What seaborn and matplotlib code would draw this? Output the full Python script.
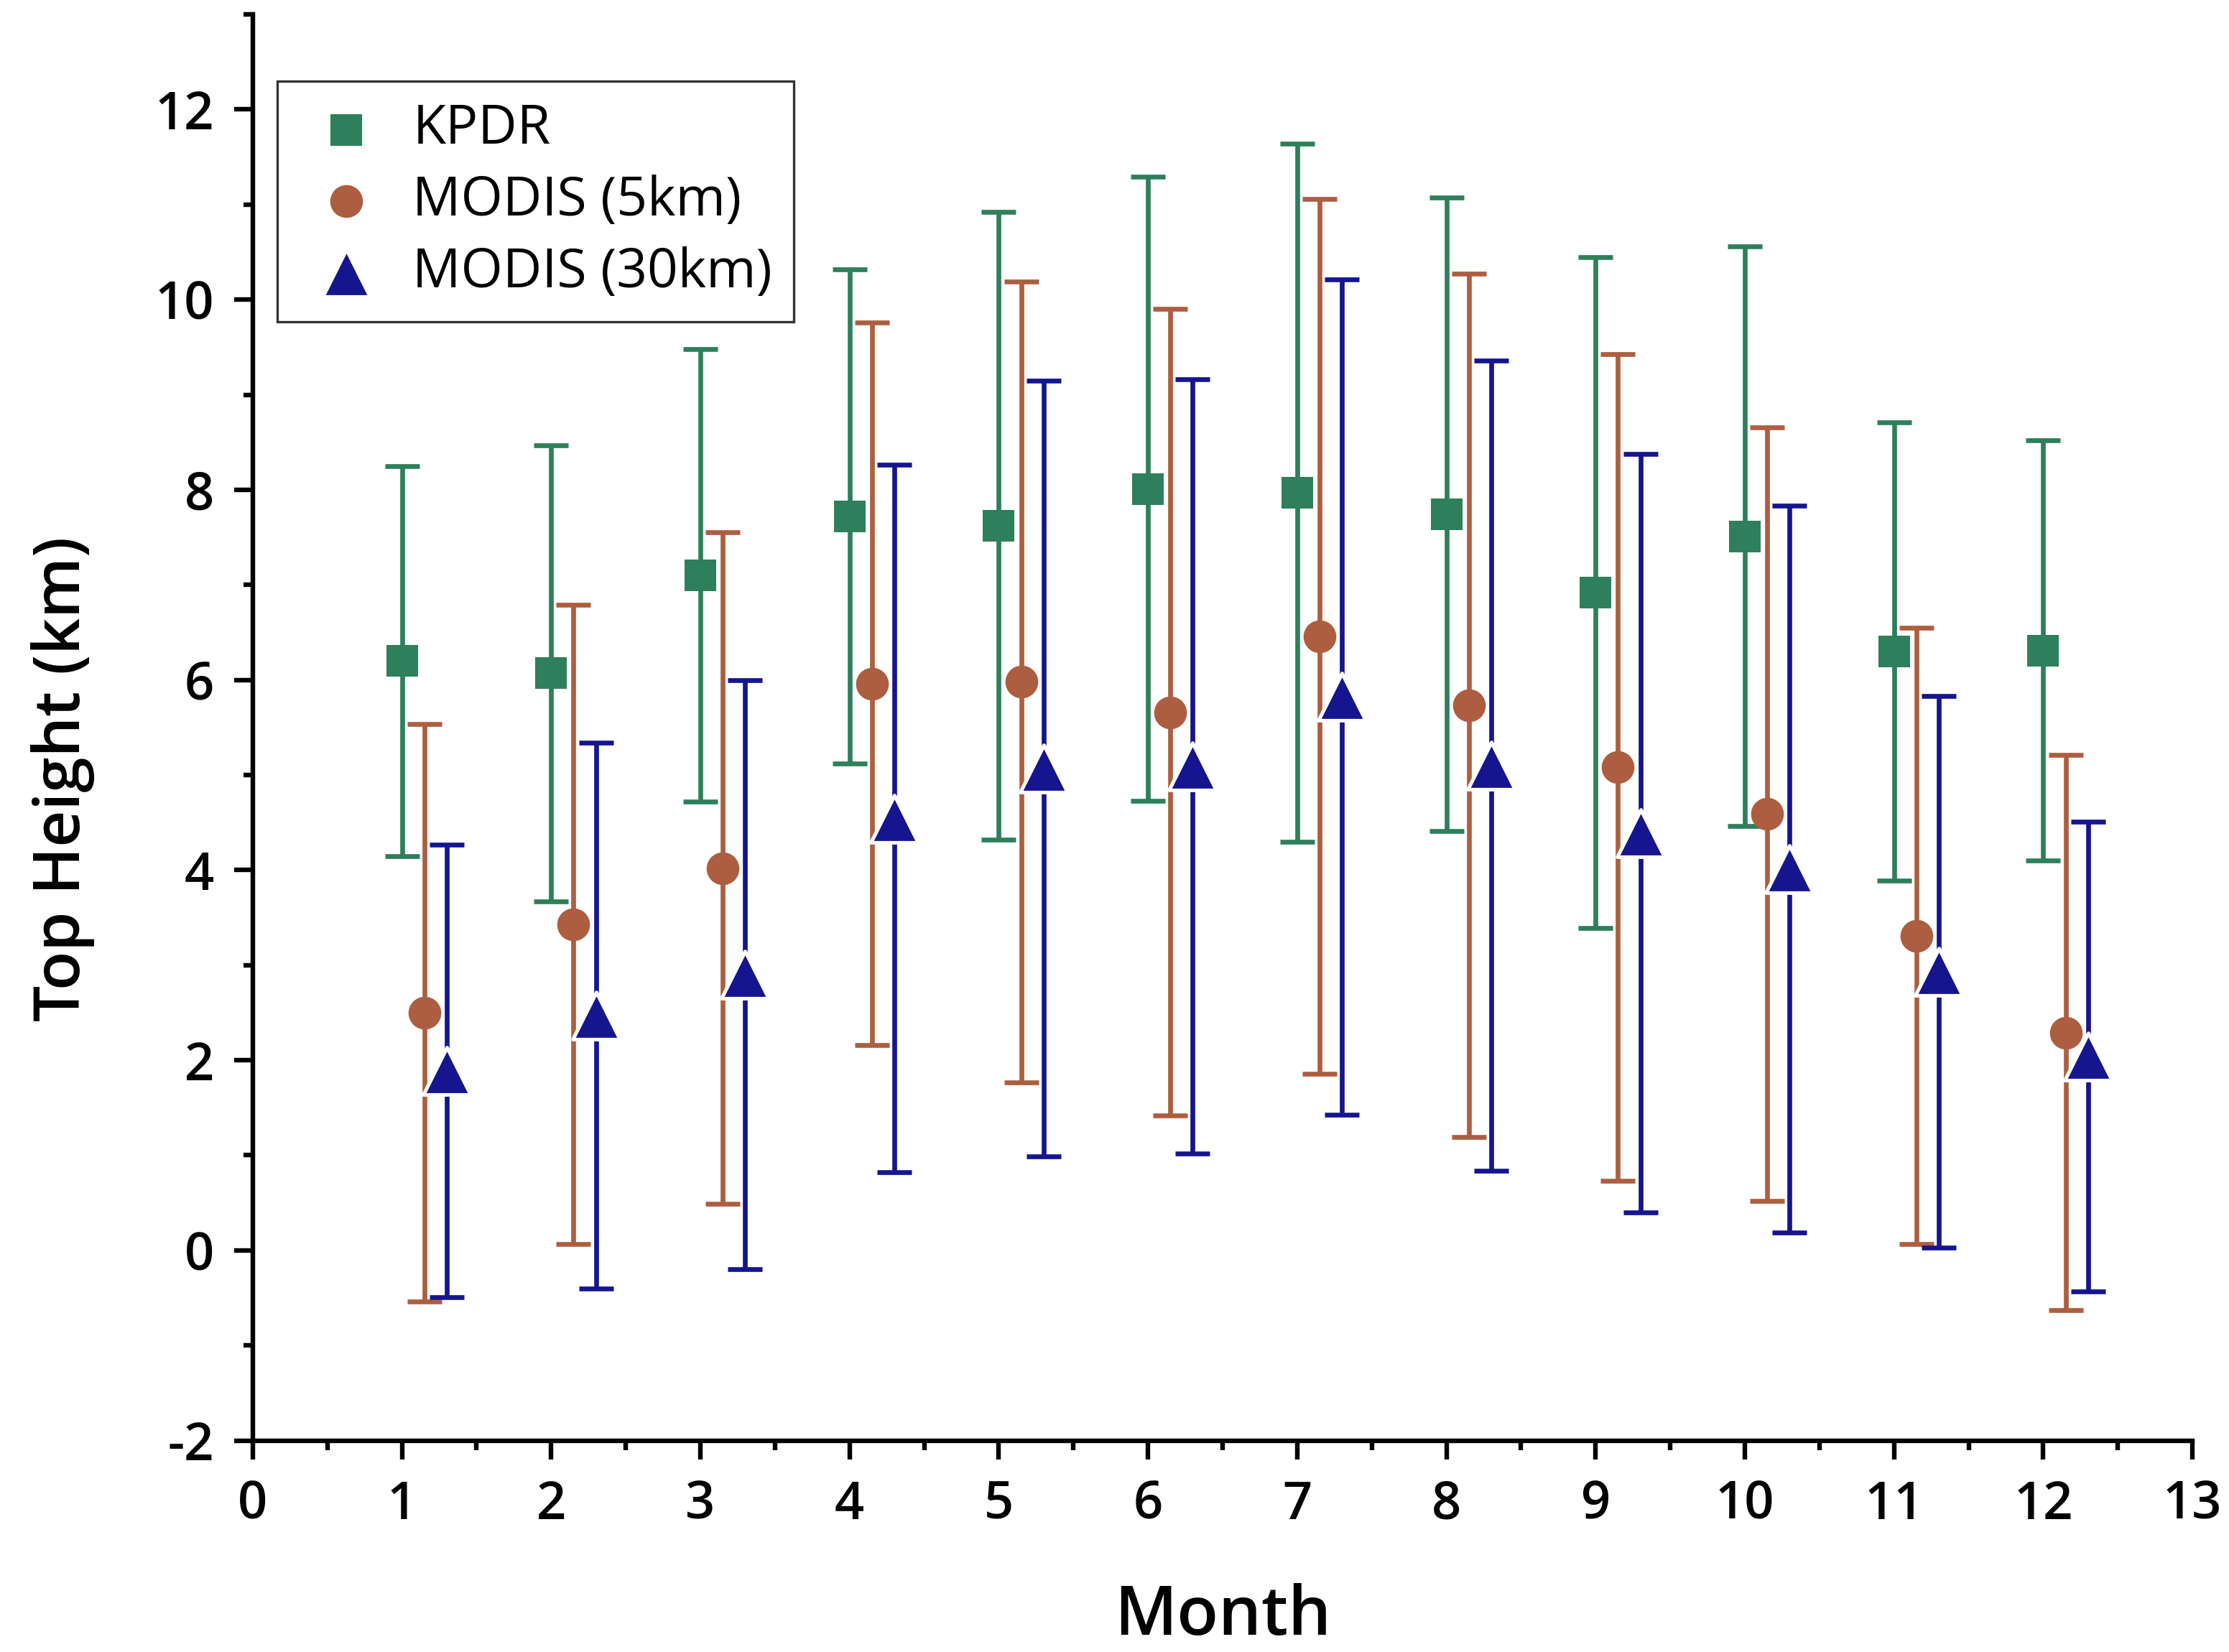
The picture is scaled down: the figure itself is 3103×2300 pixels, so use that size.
import numpy as np
import pandas as pd
import seaborn as sns
import matplotlib.pyplot as plt
from matplotlib.ticker import MultipleLocator

months = np.arange(1, 13)

# KPDR
kpdr_mean = [6.20, 6.07, 7.10, 7.72, 7.62, 8.01, 7.97, 7.74, 6.92, 7.51, 6.30, 6.31]
kpdr_err = [2.05, 2.40, 2.38, 2.60, 3.30, 3.28, 3.67, 3.33, 3.53, 3.05, 2.41, 2.21]

# MODIS 5km
m5_mean = [2.50, 3.43, 4.02, 5.96, 5.98, 5.66, 6.46, 5.73, 5.08, 4.59, 3.31, 2.29]
m5_err = [3.04, 3.36, 3.53, 3.80, 4.21, 4.24, 4.60, 4.54, 4.35, 4.07, 3.24, 2.92]

# MODIS 30km
m30_mean = [1.89, 2.47, 2.90, 4.54, 5.07, 5.09, 5.82, 5.10, 4.39, 4.01, 2.93, 2.04]
m30_err = [2.38, 2.87, 3.10, 3.72, 4.08, 4.07, 4.39, 4.26, 3.99, 3.82, 2.90, 2.47]

labels = ["KPDR", "MODIS (5km)", "MODIS (30km)"]
offsets = [0.0, 0.15, 0.3]
colors = ["#2e7f5b", "#ad5e40", "#15158f"]
markers = ["s", "o", "^"]
sizes = [240, 270, 560]

sns.set_theme(style="ticks")
plt.rcParams['font.family'] = ['Open Sans', 'DejaVu Sans']
plt.rcParams['axes.unicode_minus'] = False
plt.rcParams['text.color'] = 'black'
plt.rcParams['axes.labelcolor'] = 'black'
plt.rcParams['xtick.color'] = 'black'
plt.rcParams['ytick.color'] = 'black'

fig = plt.figure(figsize=(15.515, 11.5), dpi=200)
ax = fig.add_axes([0.1134, 0.128, 0.8702, 0.8633])

series = [(kpdr_mean, kpdr_err), (m5_mean, m5_err), (m30_mean, m30_err)]
for (mean, err), lab, off, c, m, s in zip(series, labels, offsets, colors, markers, sizes):
    df = pd.DataFrame({"Month": months + off, "Height": mean, "err": err})
    ax.errorbar(df["Month"], df["Height"], yerr=df["err"], fmt="none",
                ecolor=c, elinewidth=2.4, capsize=8.5, capthick=2.4, zorder=2)
    sns.scatterplot(data=df, x="Month", y="Height", ax=ax, color=c, marker=m, s=s,
                    edgecolor="white" if m == "^" else c,
                    linewidth=1.8 if m == "^" else 0, label=lab, zorder=3)

ax.set_xlim(0, 13)
ax.set_ylim(-2, 13)
ax.xaxis.set_major_locator(MultipleLocator(1))
ax.xaxis.set_minor_locator(MultipleLocator(0.5))
ax.set_yticks(np.arange(-2, 13, 2))
ax.yaxis.set_minor_locator(MultipleLocator(1))

for sp in ["top", "right"]:
    ax.spines[sp].set_visible(False)
for sp in ["left", "bottom"]:
    ax.spines[sp].set_linewidth(2.3)
    ax.spines[sp].set_color("black")

ax.tick_params(which="major", length=9.5, width=2.3, labelsize=26, pad=10)
ax.tick_params(which="minor", length=4.8, width=2.3)
for t in ax.get_xticklabels() + ax.get_yticklabels():
    t.set_fontweight("semibold")

ax.set_xlabel("Month", fontsize=34, fontweight="semibold", labelpad=26)
ax.set_ylabel("Top Height (km)", fontsize=32, fontweight="semibold", labelpad=30)
ax.yaxis.label.set_y(0.464)

leg = ax.legend(loc="upper left", bbox_to_anchor=(0.0126, 0.953), borderaxespad=0,
                fontsize=27, frameon=True, fancybox=False, edgecolor="black",
                borderpad=0.4, handlelength=1.75, handletextpad=0.36,
                labelspacing=0.33, scatterpoints=1)
leg.get_frame().set_linewidth(1.2)
for t in leg.get_texts():
    t.set_fontweight("medium")

fig.savefig("out.png", dpi=200)
